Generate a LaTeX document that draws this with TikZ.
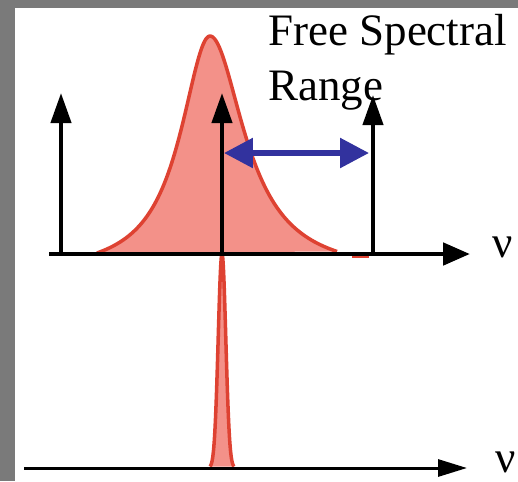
\documentclass[tikz,border=0pt]{standalone}
\usepackage{fontspec}
\setmainfont{Liberation Serif}
\usetikzlibrary{positioning,arrows.meta}
\definecolor{slidegray}{RGB}{122,122,122}
\definecolor{peakred}{RGB}{222,66,50}
\definecolor{peakfill}{RGB}{243,145,137}
\definecolor{fsrblue}{RGB}{50,50,158}

\begin{document}
\begin{tikzpicture}[
  x=0.02cm, y=-0.02cm,
  declare function={cav(\x)=254-218*max(1/(1+((\x-210)/ifthenelse(\x<210,36,42))^2)-0.088,0)/0.912;
    line(\x)=468-214*exp(-((\x-222)^2)/(2*3.8^2));},
  axis/.style={line width=2.8pt,-{Triangle[length=0.54cm,width=0.44cm]}},
  thinaxis/.style={line width=1.7pt,-{Triangle[length=0.58cm,width=0.34cm]}},
  mode/.style={line width=2.4pt,-{Triangle[length=0.6cm,width=0.4cm]}},
  fsr/.style={line width=3.2pt,fsrblue,{Triangle[length=0.58cm,width=0.58cm]}-{Triangle[length=0.58cm,width=0.58cm]}},
  peakline/.style={draw=peakred,line width=2pt,line join=round},
  lbl/.style={font=\fontsize{25.6pt}{30pt}\selectfont,inner sep=0pt}
]
\useasboundingbox[fill=slidegray] (0,0) rectangle (518,481);
\fill[white] (15,8) rectangle (518,481);

% broad cavity transmission
\fill[peakfill] plot[domain=97:337,samples=150] (\x,{cav(\x)}) -- cycle;
\draw[peakline] plot[domain=97:337,samples=150] (\x,{cav(\x)});
\draw[peakline] (352,256) -- (369,256);

% narrow line
\fill[peakfill] plot[domain=210:234,samples=80] (\x,{line(\x)}) -- cycle;
\draw[peakline] plot[domain=210:234,samples=80] (\x,{line(\x)});

\coordinate (up0) at (49,254);
\coordinate (up1) at (470,254);
\coordinate (lo0) at (24,468);
\coordinate (lo1) at (467,468);
\draw[axis] (up0) -- (up1);
\draw[thinaxis] (lo0) -- (lo1);
\node[lbl,anchor=base west] (nu1) at (492,257) {ν};
\node[lbl,anchor=base west] (nu2) at (495,472) {ν};

\coordinate (m1) at (61,254);
\coordinate (m2) at (222,254);
\coordinate (m3) at (373,254);
\coordinate (t1) at (61,93);
\coordinate (t2) at (222,93);
\coordinate (t3) at (373,95);
\draw[mode] (m1) -- (t1);
\draw[mode] (m2) -- (t2);
\draw[mode] (m3) -- (t3);

\coordinate (fsrL) at (224,153);
\coordinate (fsrR) at (369,153);
\draw[fsr] (fsrL) -- (fsrR);

\node[lbl,anchor=base west] (free) at (268,45) {Free Spectral};
\node[lbl,anchor=base west] (range) at (268,100) {Range};
\end{tikzpicture}
\end{document}
